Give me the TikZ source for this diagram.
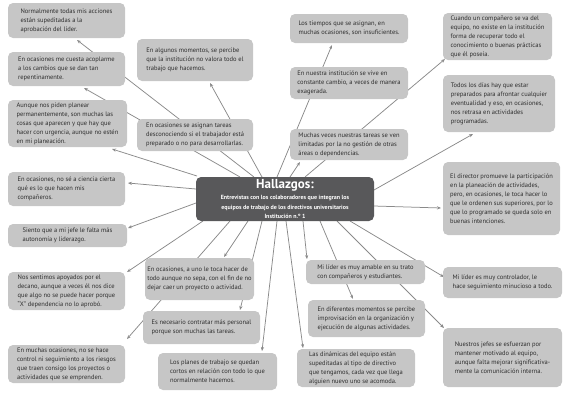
\documentclass[tikz,border=0pt]{standalone}
\usepackage{fontspec}
\setmainfont{PT Sans}
\usetikzlibrary{arrows.meta,calc}
\pgfdeclarelayer{bg}\pgfsetlayers{bg,main}
\definecolor{boxgray}{HTML}{C6C6C6}
\definecolor{boxtext}{HTML}{2E2E2E}
\definecolor{centergray}{HTML}{58585A}
\definecolor{linegray}{HTML}{8A8A8A}
\tikzset{
  bx/.style={fill=boxgray, rounded corners=5pt, inner sep=0pt, align=left, text=boxtext,
    font=\fontsize{6.5}{9}\selectfont},
  hub/.style={fill=centergray, rounded corners=5pt, inner sep=0pt, align=center, text=white},
  conn/.style={draw=linegray, line width=0.75pt, -{Stealth[length=4pt,width=3.2pt]}},
}
\newcommand\mybox[6]{%
  \pgfmathsetmacro\bw{#4-#2}\pgfmathsetmacro\bh{#5-#3}%
  \node[bx, minimum width=\bw pt, minimum height=\bh pt] (#1) at ({(#2+#4)/2},{(#3+#5)/2}) {#6};}
\begin{document}
\begin{tikzpicture}[x=1pt,y=-1pt]
\useasboundingbox (0,0) rectangle (567,400);
% hub
\node[hub, minimum width=178pt, minimum height=44pt] (hz) at (285,199)
  {{\fontsize{13}{14}\selectfont\bfseries Hallazgos:}\\[-1pt]
   {\fontsize{6}{9}\selectfont\bfseries Entrevistas con los colaboradores que integran los}\\[-2.5pt]
   {\fontsize{6}{9}\selectfont\bfseries equipos de trabajo de los directivos universitarios}\\[-2.5pt]
   {\fontsize{6}{9}\selectfont\bfseries Institución n.º 1}};
% left column
\mybox{b1}{8}{3}{125}{38}{Normalmente todas mis acciones\\están supeditadas a la\\aprobación del líder.}
\mybox{b2}{8}{52}{125}{86}{En ocasiones me cuesta acoplarme\\a los cambios que se dan tan\\repentinamente.}
\mybox{b3}{8}{100}{127}{147}{Aunque nos piden planear\\permanentemente, son muchas las\\cosas que aparecen y que hay que\\hacer con urgencia, aunque no estén\\en mi planeación.}
\mybox{b4}{8}{172}{125}{206}{En ocasiones, no sé a ciencia cierta\\qué es lo que hacen mis\\compañeros.}
\mybox{b5}{8}{224}{127}{247}{Siento que a mi jefe le falta más\\autonomía y liderazgo.}
\mybox{b6}{8}{272}{125}{310}{Nos sentimos apoyados por el\\decano, aunque a veces él nos dice\\que algo no se puede hacer porque\\“X” dependencia no lo aprobó.}
\mybox{b7}{8}{345}{125}{383}{En muchas ocasiones, no se hace\\control ni seguimiento a los riesgos\\que traen consigo los proyectos o\\actividades que se emprenden.}
% second column
\mybox{b8}{137}{39}{253}{81}{En algunos momentos, se percibe\\que la institución no valora todo el\\trabajo que hacemos.}
\mybox{b9}{137}{119}{253}{151}{En ocasiones se asignan tareas\\desconociendo si el trabajador está\\preparado o no para desarrollarlas.}
\mybox{b10}{145}{258}{254}{300}{En ocasiones, a uno le toca hacer de\\todo aunque no sepa, con el fin de no\\dejar caer un proyecto o actividad.}
\mybox{b11}{143}{311}{260}{344}{Es necesario contratar más personal\\porque son muchas las tareas.}
\mybox{b12}{158}{353}{277}{390}{Los planes de trabajo se quedan\\cortos en relación con todo lo que\\normalmente hacemos.}
% third column
\mybox{b13}{290}{14}{408}{43}{Los tiempos que se asignan, en\\muchas ocasiones, son insuficientes.}
\mybox{b14}{290}{67}{408}{99}{En nuestra institución se vive en\\constante cambio, a veces de manera\\exagerada.}
\mybox{b15}{290}{129}{408}{160}{Muchas veces nuestras tareas se ven\\limitadas por la no gestión de otras\\áreas o dependencias.}
\mybox{b21}{306}{260}{425}{284}{Mi líder es muy amable en su trato\\con compañeros y estudiantes.}
\mybox{b22}{308}{300}{425}{337}{En diferentes momentos se percibe\\improvisación en la organización y\\ejecución de algunas actividades.}
\mybox{b23}{297}{349}{415}{387}{Las dinámicas del equipo están\\supeditadas al tipo de directivo\\que tengamos, cada vez que llega\\alguien nuevo uno se acomoda.}
% right column
\mybox{b16}{443}{13}{552}{60}{Cuando un compañero se va del\\equipo, no existe en la institución\\forma de recuperar todo el\\conocimiento o buenas prácticas\\que él poseía.}
\mybox{b17}{443}{75}{555}{132}{Todos los días hay que estar\\preparados para afrontar cualquier\\eventualidad y eso, en ocasiones,\\nos retrasa en actividades\\programadas.}
\mybox{b18}{443}{162}{560}{235}{El director promueve la participación\\en la planeación de actividades,\\pero, en ocasiones, le toca hacer lo\\que le ordenen sus superiores, por lo\\que lo programado se queda solo en\\buenas intenciones.}
\mybox{b19}{443}{267}{562}{298}{Mi líder es muy controlador, le\\hace seguimiento minucioso a todo.}
\mybox{b20}{443}{328}{562}{387}{Nuestros jefes se esfuerzan por\\mantener motivado al equipo,\\aunque falta mejorar significativa-\\mente la comunicación interna.}
% connector end points
\coordinate (s1) at (254,177); \coordinate (e1) at (77,40);
\coordinate (s2) at (240,177); \coordinate (e2) at (84,88);
\coordinate (s3) at (197,176); \coordinate (e3) at (112,149);
\coordinate (s4) at (196,189); \coordinate (e4) at (128,183);
\coordinate (s5) at (196,203); \coordinate (e5) at (128,228);
\coordinate (s6) at (203,221); \coordinate (e6) at (127,272);
\coordinate (s7) at (230,221); \coordinate (e7) at (127,339);
\coordinate (s8) at (262,177); \coordinate (e8) at (210,83);
\coordinate (s10) at (248,221); \coordinate (e10) at (224,257);
\coordinate (s11) at (262,221); \coordinate (e11) at (240,310);
\coordinate (s12) at (277,221); \coordinate (e12) at (262,351);
\coordinate (s13) at (277,177); \coordinate (e13) at (332,45);
\coordinate (s15) at (290,177); \coordinate (e15) at (300,162);
\coordinate (s16) at (305,177); \coordinate (e16) at (445,59);
\coordinate (s17) at (374,190); \coordinate (e17) at (473,134);
\coordinate (s18) at (374,206); \coordinate (e18) at (441,208);
\coordinate (s19) at (350,221); \coordinate (e19) at (444,277);
\coordinate (s20) at (337,221); \coordinate (e20) at (444,328);
\coordinate (s21) at (303,221); \coordinate (e21) at (307,259);
\coordinate (s22) at (320,221); \coordinate (e22) at (353,299);
\coordinate (s23) at (286,221); \coordinate (e23) at (303,348);
\begin{pgfonlayer}{bg}
\foreach \i in {1,2,3,4,5,6,7,8,10,11,12,13,15,16,17,18,19,20,21,22,23}
  \draw[conn] (s\i) -- (e\i);
\end{pgfonlayer}
\end{tikzpicture}
\end{document}
